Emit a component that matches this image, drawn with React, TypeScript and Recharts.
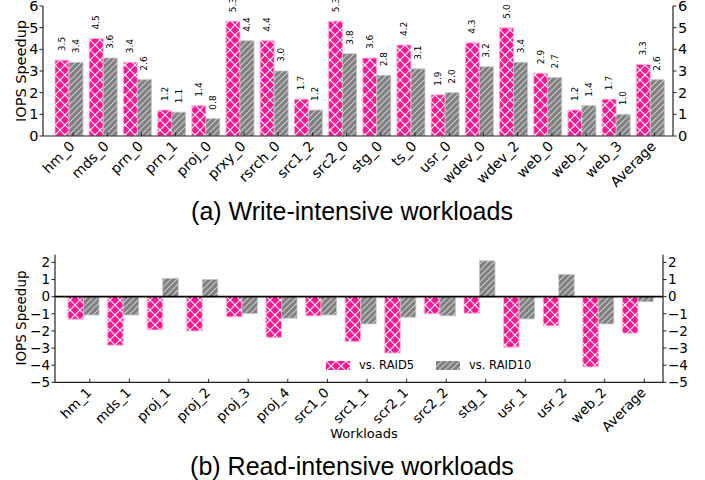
import React from 'react';
import { BarChart, Bar, XAxis, YAxis, LabelList, ReferenceLine, Legend } from 'recharts';

// ---------- (a) Write-intensive workloads ----------
const writeCategories = ['hm_0', 'mds_0', 'prn_0', 'prn_1', 'proj_0', 'prxy_0', 'rsrch_0', 'src1_2', 'src2_0', 'stg_0', 'ts_0', 'usr_0', 'wdev_0', 'wdev_2', 'web_0', 'web_1', 'web_3', 'Average'];
const writeVsRaid5 = [3.5, 4.5, 3.4, 1.2, 1.4, 5.3, 4.4, 1.7, 5.3, 3.6, 4.2, 1.9, 4.3, 5.0, 2.9, 1.2, 1.7, 3.3];
const writeVsRaid10 = [3.4, 3.6, 2.6, 1.1, 0.8, 4.4, 3.0, 1.2, 3.8, 2.8, 3.1, 2.0, 3.2, 3.4, 2.7, 1.4, 1.0, 2.6];
const writeTicks = [0, 1, 2, 3, 4, 5, 6];

// ---------- (b) Read-intensive workloads ----------
const readCategories = ['hm_1', 'mds_1', 'proj_1', 'proj_2', 'proj_3', 'proj_4', 'src1_0', 'src1_1', 'scr2_1', 'src2_2', 'stg_1', 'usr_1', 'usr_2', 'web_2', 'Average'];
const readVsRaid5 = [-1.32, -2.83, -1.94, -2.0, -1.18, -2.38, -1.12, -2.62, -3.29, -1.0, -0.97, -2.95, -1.7, -4.1, -2.13];
const readVsRaid10 = [-1.07, -1.07, 1.07, 1.0, -0.99, -1.26, -1.07, -1.59, -1.2, -1.12, 2.09, -1.3, 1.3, -1.59, -0.29];
const readTicks = [-5, -4, -3, -2, -1, 0, 1, 2];

const seriesNames = ['vs. RAID5', 'vs. RAID10'];
const yTitle = 'IOPS Speedup';
const xTitle = 'Workloads';
const captionA = '(a) Write-intensive workloads';
const captionB = '(b) Read-intensive workloads';

const writeData = writeCategories.map((name, i) => ({ name, r5: writeVsRaid5[i], r10: writeVsRaid10[i] }));
const readData = readCategories.map((name, i) => ({ name, r5: readVsRaid5[i], r10: readVsRaid10[i] }));

const PINK = '#ff1493';
const GRAY = '#808080';
const FRAME = '#222';
const FONT = 'DejaVu Sans';

const fmtTick = (v: number) => String(v).replace('-', '\u2212');

const Patterns = ({ suffix }: { suffix: string }) => (
  <defs>
    <pattern id={`xh${suffix}`} patternUnits="userSpaceOnUse" width={10} height={10}>
      <rect width={10} height={10} fill={PINK} />
      <path d="M0,0 L10,10 M10,0 L0,10" stroke="#ffffff" strokeWidth={1.1} />
    </pattern>
    <pattern id={`dh${suffix}`} patternUnits="userSpaceOnUse" width={6} height={6}>
      <rect width={6} height={6} fill={GRAY} />
      <path d="M-1,1 L1,-1 M0,6 L6,0 M5,7 L7,5" stroke="#c8c8c8" strokeWidth={1.2} />
    </pattern>
  </defs>
);

const makeXTick = (shift: number, fontSize: number) => (props: any) => {
  const { x, y, payload } = props;
  const tx = x + shift;
  return (
    <g>
      <line x1={tx} x2={tx} y1={y} y2={y - 3.5} stroke={FRAME} strokeWidth={1} />
      <text
        x={0}
        y={0}
        transform={`translate(${tx - 1},${y + 7.5}) rotate(-45)`}
        textAnchor="end"
        dominantBaseline="central"
        fontSize={fontSize}
        fontFamily={FONT}
        fill="#000"
      >
        {payload.value}
      </text>
    </g>
  );
};

const makeValueLabel = (gap: number) => (props: any) => {
  const { x, y, width, value } = props;
  const cx = Number(x) + Number(width) / 2;
  const cy = Number(y) - gap;
  return (
    <text
      x={cx}
      y={cy}
      transform={`rotate(-90, ${cx}, ${cy})`}
      textAnchor="start"
      dominantBaseline="central"
      fontSize={9}
      fontFamily={FONT}
      fill="#000"
    >
      {Number(value).toFixed(1)}
    </text>
  );
};

const renderLegend = (props: any) => {
  const payload = [...(props.payload || [])].sort(
    (a: any, b: any) => seriesNames.indexOf(a.value) - seriesNames.indexOf(b.value)
  );
  return (
    <div style={{ display: 'flex', alignItems: 'center', fontFamily: FONT, fontSize: 11.5, color: '#000', lineHeight: '14px' }}>
      {payload.map((entry: any) => {
        const idx = seriesNames.indexOf(entry.value);
        return (
          <div key={entry.value} style={{ display: 'flex', alignItems: 'center', width: idx === 0 ? 110 : 'auto' }}>
            <svg width={24} height={9} style={{ display: 'block' }}>
              <rect x={0} y={0} width={24} height={9} fill={idx === 0 ? 'url(#xhB)' : 'url(#dhB)'} />
            </svg>
            <span style={{ marginLeft: 9, whiteSpace: 'nowrap' }}>{entry.value}</span>
          </div>
        );
      })}
    </div>
  );
};

export default function App() {
  return (
    <div style={{ position: 'absolute', left: 0, top: 0, width: 705, height: 480, background: '#fff', overflow: 'hidden' }}>
      <div style={{ position: 'absolute', left: 0, top: 0 }}>
        <BarChart width={705} height={200} data={writeData} margin={{ top: 6, right: 2, bottom: 0, left: 8 }} barGap={0} barSize={14}>
          <Patterns suffix="A" />
          <XAxis
            dataKey="name"
            height={64}
            interval={0}
            padding={{ left: 9, right: 5.5 }}
            tickLine={false}
            tickSize={0}
            tickMargin={0}
            axisLine={{ stroke: FRAME, strokeWidth: 1.2 }}
            tick={makeXTick(4, 14)}
          />
          <XAxis xAxisId="top" orientation="top" dataKey="name" height={0} tick={false} tickLine={false} axisLine={{ stroke: FRAME, strokeWidth: 1.2 }} />
          <YAxis
            width={35}
            domain={[0, 6]}
            ticks={writeTicks}
            interval={0}
            allowDataOverflow
            tickSize={3.5}
            tickMargin={1}
            tickLine={{ stroke: FRAME }}
            axisLine={{ stroke: FRAME, strokeWidth: 1.2 }}
            tick={{ fontSize: 14.5, fontFamily: FONT, fill: '#000' }}
            tickFormatter={fmtTick}
          />
          <YAxis
            yAxisId="right"
            orientation="right"
            width={30}
            domain={[0, 6]}
            ticks={writeTicks}
            interval={0}
            allowDataOverflow
            tickSize={3.5}
            tickMargin={1.5}
            tickLine={{ stroke: FRAME }}
            axisLine={{ stroke: FRAME, strokeWidth: 1.2 }}
            tick={{ fontSize: 14.5, fontFamily: FONT, fill: '#000' }}
            tickFormatter={fmtTick}
          />
          <Bar dataKey="r5" name={seriesNames[0]} fill="url(#xhA)" stroke="#ffb3d6" strokeWidth={0.8} isAnimationActive={false}>
            <LabelList dataKey="r5" content={makeValueLabel(9)} />
          </Bar>
          <Bar dataKey="r10" name={seriesNames[1]} fill="url(#dhA)" stroke="#c4c4c4" strokeWidth={0.8} isAnimationActive={false}>
            <LabelList dataKey="r10" content={makeValueLabel(9)} />
          </Bar>
        </BarChart>
      </div>

      <div style={{ position: 'absolute', left: 0, top: 240 }}>
        <BarChart width={705} height={200} data={readData} margin={{ top: 14.7, right: 12, bottom: 0, left: 10 }} barGap={0} barSize={15.5}>
          <Patterns suffix="B" />
          <XAxis
            dataKey="name"
            height={57.7}
            interval={0}
            padding={{ left: 9, right: 5 }}
            tickLine={false}
            tickSize={0}
            tickMargin={0}
            axisLine={{ stroke: FRAME, strokeWidth: 1.2 }}
            tick={makeXTick(6, 13.5)}
          />
          <XAxis xAxisId="top" orientation="top" dataKey="name" height={0} tick={false} tickLine={false} axisLine={{ stroke: FRAME, strokeWidth: 1.2 }} />
          <YAxis
            width={45}
            domain={[-5, 2.45]}
            ticks={readTicks}
            interval={0}
            allowDataOverflow
            tickSize={3.5}
            tickMargin={1.5}
            tickLine={{ stroke: FRAME }}
            axisLine={{ stroke: FRAME, strokeWidth: 1.2 }}
            tick={{ fontSize: 13.5, fontFamily: FONT, fill: '#000' }}
            tickFormatter={fmtTick}
          />
          <YAxis
            yAxisId="right"
            orientation="right"
            width={30}
            domain={[-5, 2.45]}
            ticks={readTicks}
            interval={0}
            allowDataOverflow
            tickSize={3.5}
            tickMargin={1.5}
            tickLine={{ stroke: FRAME }}
            axisLine={{ stroke: FRAME, strokeWidth: 1.2 }}
            tick={{ fontSize: 13.5, fontFamily: FONT, fill: '#000' }}
            tickFormatter={fmtTick}
          />
          <Bar dataKey="r5" name={seriesNames[0]} fill="url(#xhB)" stroke="#ffb3d6" strokeWidth={0.8} isAnimationActive={false} />
          <Bar dataKey="r10" name={seriesNames[1]} fill="url(#dhB)" stroke="#c4c4c4" strokeWidth={0.8} isAnimationActive={false} />
          <ReferenceLine y={0} stroke="#000" strokeWidth={1.6} />
          <Legend
            layout="horizontal"
            verticalAlign="middle"
            align="center"
            content={renderLegend}
            wrapperStyle={{ left: 326, top: 118, width: 'auto', height: 'auto' }}
          />
        </BarChart>
      </div>

      <svg width={705} height={480} style={{ position: 'absolute', left: 0, top: 0, pointerEvents: 'none' }}>
        <text x={21} y={71} transform="rotate(-90, 21, 71)" textAnchor="middle" dominantBaseline="central" fontSize={14.5} fontFamily={FONT} fill="#000">{yTitle}</text>
        <text x={21} y={318} transform="rotate(-90, 21, 318)" textAnchor="middle" dominantBaseline="central" fontSize={13.5} fontFamily={FONT} fill="#000">{yTitle}</text>
        <text x={364} y={433} textAnchor="middle" dominantBaseline="central" fontSize={13} fontFamily={FONT} fill="#000">{xTitle}</text>
        <text x={352} y={211} textAnchor="middle" dominantBaseline="central" fontSize={25} fontFamily="Liberation Sans" fill="#000">{captionA}</text>
        <text x={352} y={466} textAnchor="middle" dominantBaseline="central" fontSize={25} fontFamily="Liberation Sans" fill="#000">{captionB}</text>
      </svg>
    </div>
  );
}
